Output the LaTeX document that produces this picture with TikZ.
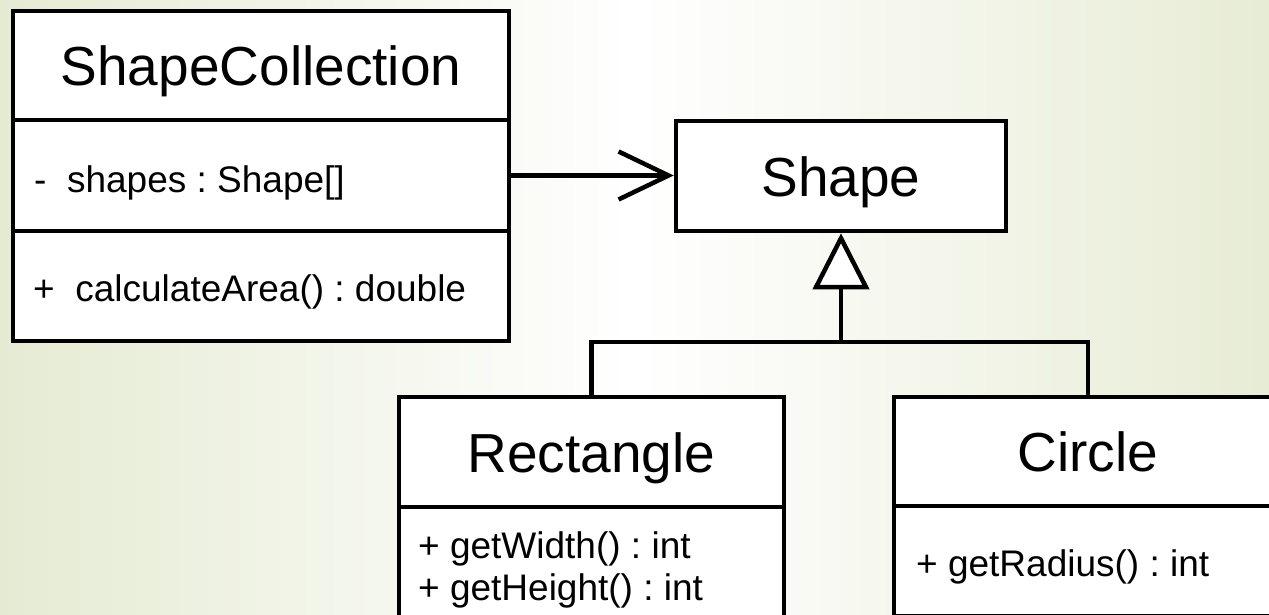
\documentclass[tikz,border=0pt]{standalone}
\usepackage{fontspec}
\setmainfont{Liberation Sans}
\usetikzlibrary{arrows.meta}
\definecolor{bgL}{RGB}{229,235,211}
\definecolor{bgR}{RGB}{231,236,213}
\frenchspacing
\begin{document}
\begin{tikzpicture}[x=1pt,y=-1pt,
  compart/.style={draw=black, fill=white, line width=4.5pt, rectangle,
    anchor=north west, inner sep=0pt, outer sep=0pt},
  titletext/.style={font=\fontsize{55}{66}\selectfont, text height=40pt, text depth=0pt},
  member/.style={font=\fontsize{37}{42}\selectfont, anchor=base west, inner sep=0pt},
  conn/.style={line width=4.5pt, draw=black}
]
\useasboundingbox (0,0) rectangle (1269,615);
\shade[left color=bgL, right color=bgR, middle color=white] (0,0) rectangle (1269,615);

% ShapeCollection
\node[compart, titletext, minimum width=496pt, minimum height=109pt] (scT) at (13,11) {ShapeCollection};
\node[compart, minimum width=496pt, minimum height=111pt] (scA) at (13,120) {};
\node[compart, minimum width=496pt, minimum height=110pt] (scM) at (13,231) {};
\node[member] (scAtxt) at (34,192) {-\hspace{0.556em}shapes : Shape[]};
\node[member] (scMtxt) at (33,301) {+\hspace{0.556em}calculateArea() : double};

% Shape
\node[compart, titletext, minimum width=330pt, minimum height=110pt] (shape) at (676,121) {Shape};

% Rectangle
\node[compart, titletext, minimum width=385pt, minimum height=110pt] (rectT) at (399,397) {Rectangle};
\node[compart, minimum width=385pt, minimum height=115pt] (rectM) at (399,507) {};
\node[member] (rw) at (418,558) {+ getWidth() : int};
\node[member] (rh) at (418,600) {+ getHeight() : int};

% Circle
\node[compart, titletext, minimum width=388pt, minimum height=109pt] (circT) at (894,397) {Circle};
\node[compart, minimum width=388pt, minimum height=110pt] (circM) at (894,506) {};
\node[member] (cr) at (916,576) {+ getRadius() : int};

% association
\draw[conn, -{Straight Barb[length=50pt, width=48pt]}, shorten >=2.25pt]
  (scA.east) -- (scA.east -| shape.west);

% generalization
\coordinate (j) at (841,342);
\draw[conn, -{Triangle[length=56pt, width=56pt, fill=white]}, shorten >=2.25pt]
  (j) -- (shape.south);
\draw[conn] (rectT.north) |- (j) -| (circT.north);
\end{tikzpicture}
\end{document}
